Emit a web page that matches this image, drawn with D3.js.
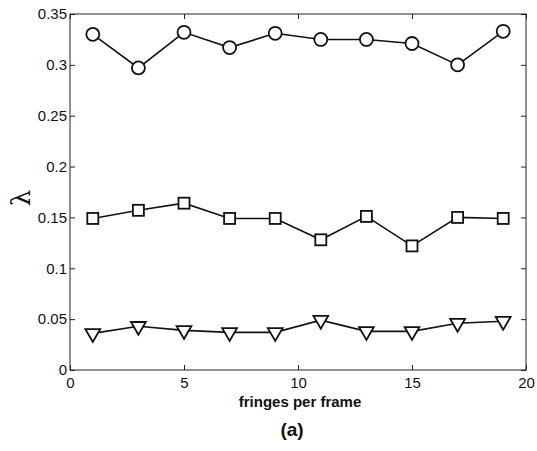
<!DOCTYPE html>
<html>
<head>
<meta charset="utf-8">
<script src="https://cdn.jsdelivr.net/npm/d3@7"></script>
<style>
  body { margin: 0; background: #fff; }
  svg { display: block; font-family: "Liberation Sans", Arial, sans-serif; }
</style>
</head>
<body>
<svg width="537" height="451"></svg>
<script>
// fringes per frame
var fringes = [1, 3, 5, 7, 9, 11, 13, 15, 17, 19];
// lambda values
var circleVals = [0.330, 0.297, 0.332, 0.317, 0.331, 0.325, 0.325, 0.321, 0.300, 0.333];
var squareVals = [0.149, 0.157, 0.164, 0.149, 0.149, 0.128, 0.151, 0.122, 0.150, 0.149];
var triVals = [0.036, 0.043, 0.039, 0.037, 0.037, 0.049, 0.038, 0.038, 0.046, 0.048];
var xTicks = [0, 5, 10, 15, 20];
var yTicks = [0, 0.05, 0.1, 0.15, 0.2, 0.25, 0.3, 0.35];

var pLeft = 70, pRight = 526, pTop = 14, pBottom = 370;

var svg = d3.select("svg");

var x = d3.scaleLinear().domain([0, 20]).range([pLeft, pRight]);
var y = d3.scaleLinear().domain([0, 0.35]).range([pBottom, pTop]);

// box
svg.append("rect")
    .attr("x", pLeft).attr("y", pTop)
    .attr("width", pRight - pLeft).attr("height", pBottom - pTop)
    .attr("fill", "none").attr("stroke", "#222").attr("stroke-width", 1);

// axes, ticks pointing inward
var fmt = function(d) { return d === 0 ? "0" : String(+d.toFixed(2)); };

var gx = svg.append("g").attr("transform", "translate(0," + pBottom + ")")
    .call(d3.axisBottom(x).tickValues(xTicks).tickSizeInner(-5).tickSizeOuter(0).tickPadding(7));
var gxTop = svg.append("g").attr("transform", "translate(0," + pTop + ")")
    .call(d3.axisTop(x).tickValues(xTicks).tickSizeInner(-5).tickSizeOuter(0).tickFormat(""));
var gy = svg.append("g").attr("transform", "translate(" + pLeft + ",0)")
    .call(d3.axisLeft(y).tickValues(yTicks).tickSizeInner(-5).tickSizeOuter(0).tickPadding(3).tickFormat(fmt));
var gyR = svg.append("g").attr("transform", "translate(" + pRight + ",0)")
    .call(d3.axisRight(y).tickValues(yTicks).tickSizeInner(-5).tickSizeOuter(0).tickFormat(""));

[gx, gxTop, gy, gyR].forEach(function(g) {
  g.select(".domain").remove();
  g.selectAll("line").attr("stroke", "#222");
  g.selectAll("text").attr("font-size", 15).attr("fill", "#111")
      .attr("font-family", "Liberation Sans, Arial, sans-serif");
});

// lines
var line = d3.line()
    .x(function(d, i) { return x(fringes[i]); })
    .y(function(d) { return y(d); });

[circleVals, squareVals, triVals].forEach(function(vals) {
  svg.append("path").datum(vals)
      .attr("d", line)
      .attr("fill", "none").attr("stroke", "#111").attr("stroke-width", 1.6);
});

// markers
svg.append("g").selectAll("circle")
    .data(circleVals).enter().append("circle")
    .attr("cx", function(d, i) { return x(fringes[i]); })
    .attr("cy", function(d) { return y(d); })
    .attr("r", 6.5)
    .attr("fill", "#fff").attr("stroke", "#111").attr("stroke-width", 1.8);

svg.append("g").selectAll("rect")
    .data(squareVals).enter().append("rect")
    .attr("x", function(d, i) { return x(fringes[i]) - 5.5; })
    .attr("y", function(d) { return y(d) - 5.5; })
    .attr("width", 11).attr("height", 11)
    .attr("fill", "#fff").attr("stroke", "#111").attr("stroke-width", 1.8);

var tri = d3.symbol().type(d3.symbolTriangle).size(95);
svg.append("g").selectAll("path")
    .data(triVals).enter().append("path")
    .attr("d", tri)
    .attr("transform", function(d, i) {
      return "translate(" + x(fringes[i]) + "," + y(d) + ") rotate(180)";
    })
    .attr("fill", "#fff").attr("stroke", "#111").attr("stroke-width", 1.8);

// labels
svg.append("text")
    .attr("x", 300).attr("y", 407)
    .attr("text-anchor", "middle")
    .attr("font-size", 15).attr("font-weight", "bold").attr("fill", "#111")
    .text("fringes per frame");

svg.append("text")
    .attr("x", 292).attr("y", 436)
    .attr("text-anchor", "middle")
    .attr("font-size", 19).attr("font-weight", "bold").attr("fill", "#111")
    .text("(a)");

svg.append("text")
    .attr("transform", "translate(30,198) rotate(-90)")
    .attr("text-anchor", "middle")
    .attr("font-size", 26).attr("fill", "#111")
    .attr("font-family", "DejaVu Serif, serif")
    .text("λ");
</script>
</body>
</html>
